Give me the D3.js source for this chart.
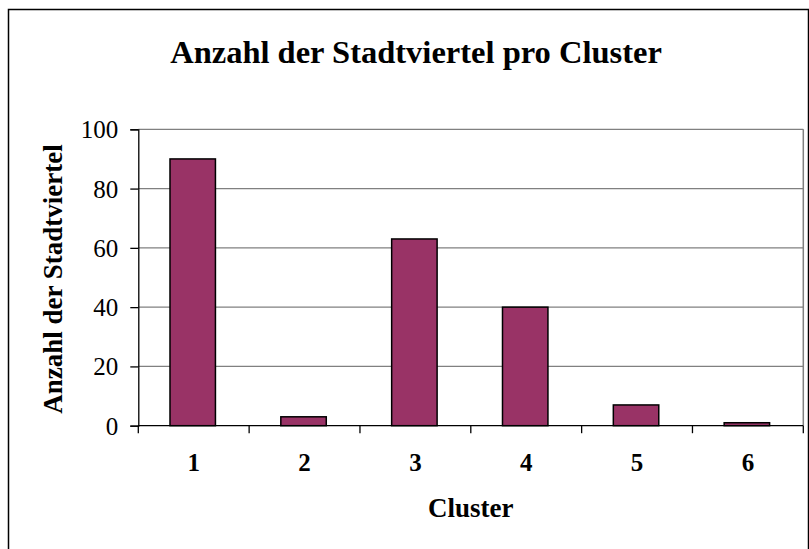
<!DOCTYPE html>
<html><head><meta charset="utf-8">
<script src="https://cdn.jsdelivr.net/npm/d3@7"></script>
<style>
html,body{margin:0;padding:0;background:#fff;}
svg{display:block;}
text{font-family:"Liberation Serif","Times New Roman",serif;fill:#000;}
</style></head>
<body><svg id="chart" width="809" height="549"></svg>
<script>
const categories = ["1","2","3","4","5","6"];
const counts = [90, 3, 63, 40, 7, 1];
const yTicks = [0, 20, 40, 60, 80, 100];
const titleText = "Anzahl der Stadtviertel pro Cluster";
const xTitle = "Cluster";
const yTitle = "Anzahl der Stadtviertel";

const svg = d3.select("#chart");
const L = 138.3, R = 803.3, T = 129.3, B = 425.7;

const x = d3.scaleBand().domain(categories).range([L, R]).padding(0);
const y = d3.scaleLinear().domain([0, 100]).range([B, T]);

// outer chart border
svg.append("rect").attr("x", 8.5).attr("y", 9.5).attr("width", 800).attr("height", 570)
  .attr("fill", "#fff").attr("stroke", "#000").attr("stroke-width", 1.5);

// title
svg.append("text").attr("x", 416).attr("y", 62.5).attr("text-anchor", "middle")
  .attr("font-size", 32.5).attr("font-weight", "bold").text(titleText);

// gridlines
svg.append("g").selectAll("line").data(yTicks.filter(d => d > 0)).join("line")
  .attr("x1", L).attr("x2", R).attr("y1", d => y(d)).attr("y2", d => y(d))
  .attr("stroke", "#808080").attr("stroke-width", 1.2);
// right border of plot area
svg.append("line").attr("x1", R).attr("x2", R).attr("y1", T).attr("y2", B)
  .attr("stroke", "#808080").attr("stroke-width", 1.5);

// bars
const bw = x.bandwidth() * 0.41;
svg.append("g").selectAll("rect").data(categories).join("rect")
  .attr("x", (c) => x(c) + (x.bandwidth() - bw) / 2 - 1)
  .attr("width", bw)
  .attr("y", (c, i) => y(counts[i]))
  .attr("height", (c, i) => B - y(counts[i]))
  .attr("fill", "#993366").attr("stroke", "#000").attr("stroke-width", 1.5);

// y axis
const yAxis = svg.append("g").attr("transform", `translate(${L},0)`)
  .call(d3.axisLeft(y).tickValues(yTicks).tickSize(8).tickPadding(12).tickFormat(d3.format("d")));
yAxis.select(".domain").attr("stroke", "#000").attr("stroke-width", 1.3);
yAxis.selectAll(".tick line").attr("stroke", "#000").attr("stroke-width", 1.3);
yAxis.selectAll(".tick text").attr("font-size", 25).attr("font-family", "Liberation Serif").attr("fill", "#000").attr("dy", "0.34em");

// x axis (labels centered in categories, ticks at boundaries)
const xAxis = svg.append("g").attr("transform", `translate(0,${B})`)
  .call(d3.axisBottom(x).tickSize(0).tickPadding(28));
xAxis.select(".domain").remove();
xAxis.selectAll(".tick text").attr("font-size", 25).attr("font-weight", "bold")
  .attr("font-family", "Liberation Serif").attr("fill", "#000");
svg.append("line").attr("x1", L).attr("x2", R).attr("y1", B).attr("y2", B)
  .attr("stroke", "#000").attr("stroke-width", 1.3);
const bounds = categories.map(c => x(c)).concat([R]);
svg.append("g").selectAll("line").data(bounds).join("line")
  .attr("x1", d => d).attr("x2", d => d).attr("y1", B).attr("y2", B + 7.5)
  .attr("stroke", "#000").attr("stroke-width", 1.3);

// axis titles
svg.append("text").attr("x", (L + R) / 2).attr("y", 516.5).attr("text-anchor", "middle")
  .attr("font-size", 27).attr("font-weight", "bold").text(xTitle);
svg.append("text").attr("transform", `translate(61.5,279) rotate(-90)`).attr("text-anchor", "middle")
  .attr("font-size", 27).attr("font-weight", "bold").text(yTitle);
</script></body></html>
